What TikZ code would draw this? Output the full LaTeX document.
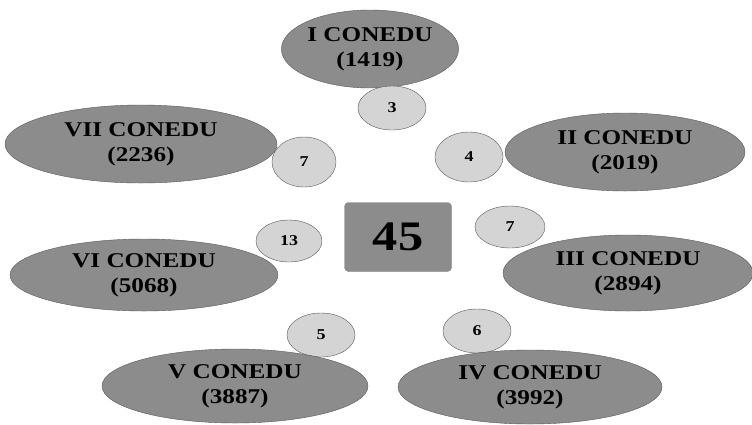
\documentclass[tikz,border=0pt]{standalone}
\usepackage{fontspec}
\setmainfont{Liberation Serif}
\usetikzlibrary{shapes.geometric}

\tikzset{
  conedu/.style={ellipse, draw=black!65, fill=black!45, inner sep=0pt, align=center,
    font=\bfseries\fontsize{21}{25}\selectfont},
  tally/.style={ellipse, draw=black!65, fill=black!17, inner sep=0pt,
    font=\bfseries\fontsize{15}{18}\selectfont},
  total/.style={draw=black!50, fill=black!45, rounded corners=4pt, minimum width=107pt,
    minimum height=69pt, font=\bfseries\fontsize{42}{42}\selectfont}
}
\newcommand{\wide}[1]{\scalebox{1.2}[1]{#1}}

\begin{document}
\begin{tikzpicture}[x=1pt,y=-1pt]
    \useasboundingbox (0,0) rectangle (752,424);
    % bubbles lying under their ellipse
    \node[tally, minimum width=70pt, minimum height=42pt] (n3) at (510,227) {\wide{7}};
    \node[tally, minimum width=68pt, minimum height=44pt] (n5) at (321,335) {\wide{5}};
    \node[tally, minimum width=68pt, minimum height=44pt] (n4) at (477,331) {\wide{6}};
    % meetings
    \node[conedu, minimum width=170pt, minimum height=78pt] (c1) at (370,49) {\wide{I CONEDU}\\\wide{(1419)}};
    \node[conedu, minimum width=240pt, minimum height=78pt] (c2) at (625,152) {\wide{II CONEDU}\\\wide{(2019)}};
    \node[conedu, minimum width=250pt, minimum height=76pt] (c3) at (628,273) {\wide{III CONEDU}\\\wide{(2894)}};
    \node[conedu, minimum width=264pt, minimum height=74pt] (c4) at (530,387) {\wide{IV CONEDU}\\\wide{(3992)}};
    \node[conedu, minimum width=266pt, minimum height=74pt] (c5) at (235,386) {\wide{V CONEDU}\\\wide{(3887)}};
    \node[conedu, minimum width=268pt, minimum height=72pt] (c6) at (144,275) {\wide{VI CONEDU}\\\wide{(5068)}};
    \node[conedu, minimum width=272pt, minimum height=78pt] (c7) at (141,144) {\wide{VII CONEDU}\\\wide{(2236)}};
    % bubbles on top
    \node[tally, minimum width=68pt, minimum height=44pt] (n1) at (392,108) {\wide{3}};
    \node[tally, minimum width=68pt, minimum height=50pt] (n2) at (469,157) {\wide{4}};
    \node[tally, minimum width=66pt, minimum height=42pt] (n6) at (289,241) {\wide{13}};
    \node[tally, minimum width=64pt, minimum height=50pt] (n7) at (304,162) {\wide{7}};
    % total
    \node[total] (sum) at (398,237) {\wide{45}};
\end{tikzpicture}
\end{document}
